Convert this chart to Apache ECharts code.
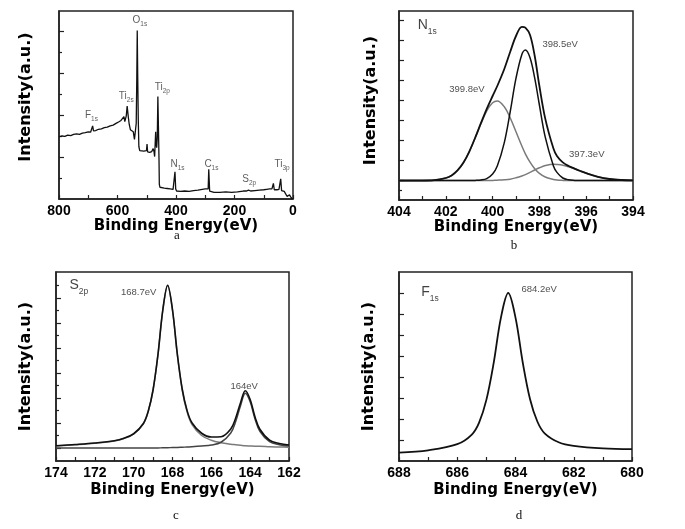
<!DOCTYPE html>
<html><head><meta charset="utf-8">
<script src="https://cdn.jsdelivr.net/npm/echarts@6/dist/echarts.min.js"></script>
<style>html,body{margin:0;padding:0;background:#fff}#c{width:685px;height:529px}</style>
</head><body><div id="c"></div>
<script>
// ---------- Panel a : survey spectrum ----------
const surveyBE = [800,790,780,770,760,750,740,730,720,710,700,692,688,685,682,675,665,655,645,635,625,615,605,595,588,582,578,575,570,567,563,560,556,550,546,542,538,536,534,532.5,531,529,527,524,518,510,505,501,499,497,490,483,478,475,473,471,469.5,468,466,464,462,460,458,457,455,450,440,430,420,410,406,403.5,401,398,395,385,370,355,340,325,310,300,295,290,288,285,280,270,250,230,210,190,170,160,152,145,130,115,100,90,80,72,67,64,55,48,45,42,39,35,30,27,24,20,16,12,8,4,2];
const surveyI  = [1.48,1.50,1.49,1.52,1.51,1.54,1.55,1.54,1.57,1.58,1.60,1.59,1.63,1.74,1.62,1.63,1.66,1.67,1.70,1.71,1.74,1.76,1.80,1.84,1.87,1.90,1.96,1.84,1.98,2.21,1.95,1.78,1.65,1.64,1.60,1.42,1.45,1.80,2.90,4.01,3.00,1.90,1.25,1.15,1.13,1.14,1.12,1.15,1.31,1.12,1.11,1.13,1.20,1.12,1.01,1.35,1.60,1.30,1.22,1.45,2.44,1.70,0.90,0.35,0.28,0.27,0.26,0.25,0.24,0.23,0.25,0.65,0.24,0.19,0.17,0.18,0.19,0.18,0.20,0.21,0.23,0.24,0.22,0.24,0.71,0.19,0.16,0.16,0.16,0.17,0.16,0.17,0.19,0.19,0.21,0.19,0.20,0.21,0.22,0.23,0.24,0.24,0.37,0.22,0.22,0.23,0.25,0.48,0.20,0.17,0.18,0.20,0.15,0.06,0.09,0.10,0.05,0.02,0.0];
const surveyLabels = [[546.9,4.37,'O','1s'],[593.6,2.55,'Ti','2s'],[709.6,2.10,'F','1s'],[470.8,2.77,'Ti','2p'],[417.2,0.945,'N','1s'],[301.2,0.945,'C','1s'],[171.6,0.588,'S','2p'],[61.4,0.945,'Ti','3p']];

// ---------- Panel b : N1s ----------
const nBE = [404,403,402.5,402,401.75,401.5,401.25,401,400.75,400.5,400.25,400,399.8,399.5,399.25,399,398.75,398.6,398.4,398.2,398,397.75,397.4,397.25,397,396.75,396.5,396.25,396,395.5,395,394.5,394];
const nEnvelope = [0.97,0.97,0.99,1.10,1.23,1.48,1.86,2.41,3.10,3.84,4.56,5.20,5.70,6.55,7.40,8.20,8.66,8.62,8.25,7.20,5.70,4.07,2.57,2.20,1.88,1.70,1.57,1.45,1.34,1.16,1.05,1.00,0.98];
const n3998 = [0.97,0.97,0.99,1.10,1.23,1.48,1.86,2.41,3.09,3.81,4.45,4.86,4.95,4.66,4.11,3.41,2.70,2.31,1.89,1.56,1.33,1.15,1.03,1.00,0.98,0.97,0.97,0.97,0.97,0.97,0.97,0.97,0.97];
const n3985 = [0.97,0.97,0.97,0.97,0.97,0.97,0.97,0.97,0.98,1.00,1.07,1.30,1.70,2.87,4.40,6.09,7.28,7.50,7.11,6.09,4.75,3.14,1.70,1.38,1.10,1.01,0.98,0.97,0.97,0.97,0.97,0.97,0.97];
const n3973 = [0.97,0.97,0.97,0.97,0.97,0.97,0.97,0.97,0.97,0.97,0.97,0.98,0.99,1.01,1.04,1.11,1.20,1.27,1.38,1.50,1.61,1.72,1.79,1.78,1.74,1.66,1.56,1.45,1.34,1.16,1.05,1.00,0.98];
const nLabels = [[397.85,7.75,'398.5eV'],[401.83,5.5,'399.8eV'],[396.71,2.28,'397.3eV']];
const nTitle = [[403.18,9.05,'N','1s']];

// ---------- Panel c : S2p ----------
const sBE = [174,173,172,171,170.5,170,169.5,169.25,169,168.75,168.5,168.25,168,167.75,167.5,167.25,167,166.5,166,165.5,165,164.75,164.5,164.25,164,163.75,163.5,163,162.5,162];
const sEnvelope = [0.61,0.66,0.72,0.81,0.91,1.09,1.50,1.99,2.85,4.25,6.04,7.03,6.05,4.27,2.88,2.02,1.53,1.11,0.96,0.97,1.28,1.71,2.32,2.81,2.46,1.76,1.27,0.83,0.70,0.64];
const s1687 = [0.60,0.65,0.71,0.80,0.90,1.08,1.49,1.98,2.84,4.24,6.02,7.01,6.02,4.24,2.84,1.97,1.47,1.02,0.83,0.73,0.67,0.65,0.63,0.61,0.60,0.59,0.59,0.57,0.56,0.55];
const s164 = [0.52,0.52,0.52,0.52,0.52,0.52,0.52,0.52,0.52,0.52,0.53,0.53,0.54,0.54,0.55,0.56,0.57,0.60,0.64,0.75,1.12,1.57,2.20,2.71,2.37,1.68,1.19,0.77,0.65,0.60];
const sLabels = [[170.63,6.71,'168.7eV'],[164.99,2.97,'164eV']];
const sTitle = [[173.28,7.31,'S','2p']];

// ---------- Panel d : F1s ----------
const fBE = [688,687,686,685.5,685.25,685,684.75,684.5,684.25,684,683.75,683.5,683.25,683,682.5,682,681,680];
const fI  = [0.40,0.51,0.80,1.26,1.83,2.91,4.66,6.83,8.00,6.83,4.68,2.94,1.88,1.32,0.88,0.72,0.60,0.565];
const fLabels = [[683.78,8.17,'684.2eV']];
const fTitle = [[687.22,8.33,'F','1s']];

// tick positions on the unlabeled intensity axes
const aTicksMajor = [1,2,3,4], aTicksMinor = [0.5,1.5,2.5,3.5];
const bTicksMajor = [0.97,1.97,2.97,3.97,4.97,5.97,6.97,7.97,8.97], bTicksMinor = [0.5];
const cTicksMajor = [0.52,1.52,2.52,3.52,4.52,5.52,6.52], cTicksMinor = [1.02,2.02,3.02,4.02,5.02,6.02,7.02];
const dTicksMajor = [1,2,3,4,5,6,7,8], dTicksMinor = [];

const X_TITLE = 'Binding Energy(eV)', Y_TITLE = 'Intensity(a.u.)';
const captions = ['a','b','c','d'];

const AX = '#222';
const pairs = (xs, ys) => xs.map((x, i) => [x, ys[i]]);

function xAx(i, min, max, step, labelStep, gap) {
  return {
    type: 'value', gridIndex: i, min, max, interval: step, inverse: true,
    axisLine: {show: true, onZero: false, lineStyle: {color: AX, width: 1.5}},
    axisTick: {show: true, inside: true, length: 4, lineStyle: {color: AX, width: 1.2}},
    splitLine: {show: false},
    axisLabel: {show: true, margin: 5, color: '#000', fontSize: 14, fontWeight: 'bold',
      fontFamily: 'Liberation Sans', showMinLabel: true, showMaxLabel: true,
      formatter: v => (Math.round(v) % labelStep === 0 ? String(Math.round(v)) : '')},
    name: X_TITLE, nameLocation: 'middle', nameGap: gap,
    nameTextStyle: {fontSize: 15, fontWeight: 'bold', fontFamily: 'DejaVu Sans', color: '#000'}
  };
}
function xHidden(i, min, max) {
  return {type: 'value', gridIndex: i, min, max, inverse: true, show: false,
    axisLine: {show: false, onZero: false}};
}
function yAx(i, max, ticks, gap, shift) {
  return {
    type: 'value', gridIndex: i, min: 0, max, position: 'left',
    axisLine: {show: true, onZero: false, lineStyle: {color: AX, width: 1.5}},
    axisTick: {show: true, inside: true, length: 5, customValues: ticks, lineStyle: {color: AX, width: 1.2}},
    axisLabel: {show: false}, splitLine: {show: false},
    name: Y_TITLE, nameLocation: 'middle', nameGap: gap,
    nameTextStyle: {fontSize: 16, fontWeight: 'bold', fontFamily: 'DejaVu Sans', color: '#000',
      padding: [0, 0, 0, shift]}
  };
}
function yMinor(i, max, ticks) {
  return {
    type: 'value', gridIndex: i, min: 0, max, position: 'left',
    axisLine: {show: false, onZero: false},
    axisTick: {show: ticks.length > 0, inside: true, length: 3, customValues: ticks, lineStyle: {color: AX, width: 1.2}},
    axisLabel: {show: false}, splitLine: {show: false}
  };
}
function line(i, data, color, width, smooth) {
  return {type: 'line', xAxisIndex: i, yAxisIndex: i, data, showSymbol: false, symbol: 'none',
    smooth: smooth, lineStyle: {color, width}, silent: true, animation: false};
}
function textSeries(i, data, rich, fmt, vAlign) {
  return {type: 'scatter', xAxisIndex: i, yAxisIndex: i, data, symbolSize: 1,
    itemStyle: {color: 'rgba(0,0,0,0)'}, silent: true, animation: false, z: 10,
    label: {show: true, position: [0, 0], align: 'left', verticalAlign: vAlign, formatter: fmt, rich}};
}
const subFmt = p => `{m|${p.data[2]}}{s|${p.data[3]}}`;
const plainFmt = p => `{t|${p.data[2]}}`;
const smallRich = {m: {fontSize: 10, lineHeight: 10, verticalAlign: 'top', color: '#333', fontFamily: 'Liberation Sans'},
                   s: {fontSize: 6.5, lineHeight: 18, color: '#333', fontFamily: 'Liberation Sans'}};
const bigRich = {m: {fontSize: 14, lineHeight: 14, verticalAlign: 'top', color: '#111', fontFamily: 'Liberation Sans'},
                 s: {fontSize: 8.5, lineHeight: 27, color: '#111', fontFamily: 'Liberation Sans'}};
const evRich = {t: {fontSize: 9.5, lineHeight: 10, color: '#222', fontFamily: 'Liberation Sans'}};

const rects = [
  {left: 59, top: 11, width: 234, height: 188},
  {left: 399, top: 11, width: 234, height: 189},
  {left: 56, top: 272, width: 233, height: 189},
  {left: 399, top: 272, width: 233, height: 189}
];
const grids = rects.map(g => Object.assign({}, g, {show: true, borderColor: AX, borderWidth: 1.5}))
  .concat(rects.map(g => Object.assign({}, g, {show: false})));

const BLACK = '#111', GREY = '#7a7a7a';
const xr = [[0, 800, 100, 200, 15], [394, 404, 1, 2, 17], [162, 174, 1, 2, 22], [680, 688, 1, 2, 22]];
const option = {
  animation: false,
  backgroundColor: '#fff',
  grid: grids,
  xAxis: xr.map((r, i) => xAx(i, r[0], r[1], r[2], r[3], r[4]))
    .concat(xr.map((r, i) => xHidden(i + 4, r[0], r[1]))),
  yAxis: [yAx(0, 4.476, aTicksMajor, 25, 16), yAx(1, 9.45, bTicksMajor, 20, 10),
          yAx(2, 7.56, cTicksMajor, 22, 0), yAx(3, 9.0, dTicksMajor, 22, 0),
          yMinor(4, 4.476, aTicksMinor), yMinor(5, 9.45, bTicksMinor),
          yMinor(6, 7.56, cTicksMinor), yMinor(7, 9.0, dTicksMinor)],
  series: [
    line(0, pairs(surveyBE, surveyI), BLACK, 1.3, false),
    textSeries(0, surveyLabels, smallRich, subFmt, 'top'),

    line(1, pairs(nBE, n3998), GREY, 1.5, 0.35),
    line(1, pairs(nBE, n3973), GREY, 1.5, 0.35),
    line(1, pairs(nBE, n3985), BLACK, 1.5, 0.35),
    line(1, pairs(nBE, nEnvelope), BLACK, 1.8, 0.35),
    textSeries(1, nLabels, evRich, plainFmt, 'middle'),
    textSeries(1, nTitle, bigRich, subFmt, 'top'),

    line(2, pairs(sBE, s1687), GREY, 1.5, 0.35),
    line(2, pairs(sBE, s164), '#444', 1.5, 0.35),
    line(2, pairs(sBE, sEnvelope), BLACK, 1.6, 0.35),
    textSeries(2, sLabels, evRich, plainFmt, 'middle'),
    textSeries(2, sTitle, bigRich, subFmt, 'top'),

    line(3, pairs(fBE, fI), BLACK, 1.8, 0.35),
    textSeries(3, fLabels, evRich, plainFmt, 'middle'),
    textSeries(3, fTitle, bigRich, subFmt, 'top')
  ],
  graphic: [[177, 236], [514, 246], [176, 516], [519, 516]].map((p, k) => ({
    type: 'text', x: p[0], y: p[1], silent: true,
    style: {text: captions[k], fontSize: 13, fontFamily: 'Liberation Serif', fill: '#111', align: 'center', verticalAlign: 'middle'}
  }))
};
const chart = echarts.init(document.getElementById('c'));
chart.setOption(option);
</script>
</body></html>
